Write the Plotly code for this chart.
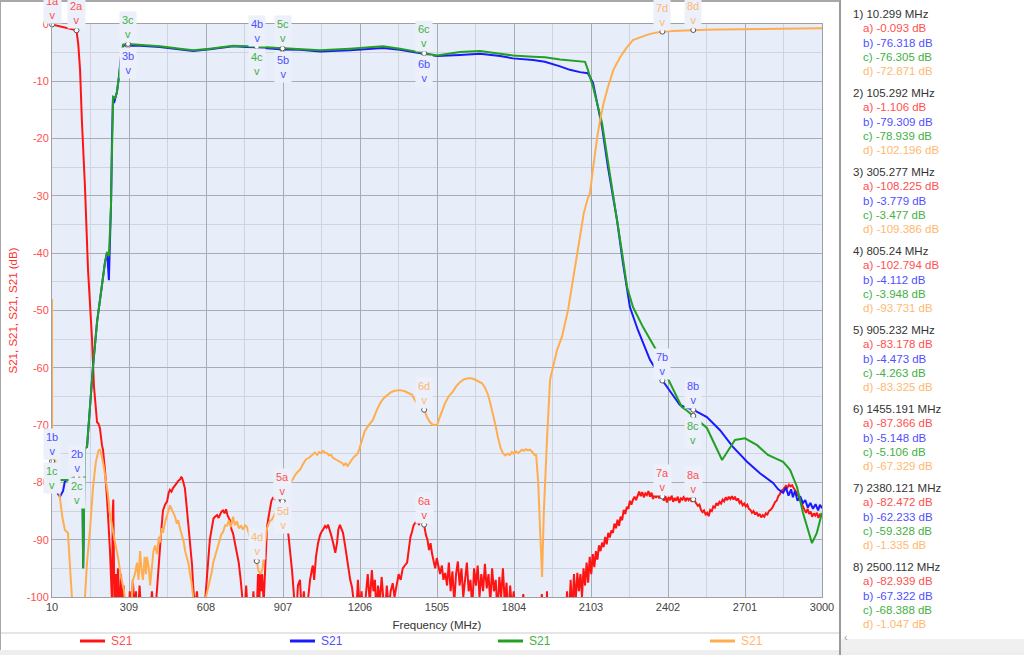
import plotly.graph_objects as go

points_a = [
    (10, -0.09), (30, -0.3), (60, -0.6), (90, -0.9), (105, -1.1), (112, -3.5), (119, -8), (126, -16.8),
    (138, -28.4), (150, -43), (165, -54.6), (173, -63.3), (180, -66.5), (185, -69.5), (190, -69.7),
    (196, -70.5), (204, -73.5), (208, -74.3), (216, -78), (224, -83), (235, -91.8), (243, -101),
    (246, -85), (248, -83), (250, -92), (253, -103), (258, -96), (262, -103), (266, -95), (270, -99),
    (274, -104), (278, -96), (282, -102), (288, -98), (294, -105), (300, -101), (305, -108.2), (312, -99),
    (318, -104), (324, -97), (330, -102), (336, -99), (342, -105), (350, -98), (358, -104), (366, -100),
    (374, -106), (382, -101), (390, -104), (398, -99), (406, -103), (414, -101), (420, -97), (425, -93),
    (429, -91.8), (435, -88), (441, -84.9), (449, -83.9), (457, -83.3), (463, -81.8), (468, -81.3),
    (474, -81.6), (480, -81), (488, -80.4), (495, -80.1), (501, -79.7), (507, -79.5), (512, -79.1),
    (515, -79.2), (519, -79.8), (522, -80.3), (526, -81), (532, -83.8), (538, -86.5), (546, -90),
    (550, -92.5), (554, -94.5), (558, -98), (565, -102), (573, -99), (580, -104), (588, -100), (596, -105),
    (604, -101), (608, -98), (616, -94), (623, -90), (631, -87.5), (637, -86.3), (643, -86), (651, -85.7),
    (657, -86.2), (662, -85.6), (668, -85.1), (674, -84.9), (680, -85.4), (686, -84.7), (692, -85.8),
    (701, -86.6), (707, -88.2), (713, -88.9), (721, -91), (728, -92.5), (735, -94), (742, -96.7),
    (750, -101), (757, -104), (764, -98), (770, -103), (778, -100), (786, -105), (792, -99), (798, -103),
    (805, -102.8), (810, -96), (815, -101), (818, -95.8), (822, -99), (826, -96), (832, -101), (840, -93),
    (845, -87.8), (851, -86), (857, -84.3), (862, -83.2), (868, -82.7), (875, -82.9), (882, -82.6),
    (888, -82.7), (895, -83.1), (905, -83.2), (915, -84.5), (922, -86), (926, -88.3), (934, -91.5),
    (942, -95.3), (950, -100), (958, -104), (965, -98), (973, -97), (980, -103), (988, -99), (996, -104),
    (1004, -100), (1012, -97), (1020, -95), (1023, -94.5), (1028, -97), (1035, -93), (1043, -90.6),
    (1051, -89.2), (1058, -88.5), (1062, -88.3), (1070, -87.6), (1076, -87.9), (1082, -87.4), (1090, -88.5),
    (1096, -89.5), (1104, -91), (1110, -92.3), (1117, -90.5), (1122, -88.2), (1128, -87.4), (1134, -88.1),
    (1140, -88.8), (1148, -91), (1155, -93), (1162, -95.5), (1168, -97), (1175, -98.3), (1182, -101),
    (1190, -104), (1198, -97), (1205, -102), (1212, -99), (1220, -104), (1228, -100), (1236, -96),
    (1244, -101), (1252, -95.3), (1258, -99), (1264, -97), (1270, -103), (1276, -98), (1283, -101),
    (1290, -96.5), (1296, -100), (1302, -104), (1310, -98), (1318, -102), (1325, -99), (1333, -97.6),
    (1340, -100), (1348, -97.6), (1356, -96), (1364, -97), (1372, -95), (1380, -94.5), (1389, -94),
    (1396, -91.5), (1402, -89.5), (1408, -88.6), (1414, -87.5), (1420, -87.1), (1427, -86.9), (1435, -87.3),
    (1442, -86.8), (1448, -87), (1455, -87.4), (1462, -89.2), (1468, -90), (1474, -91.8), (1480, -90.6),
    (1486, -92.5), (1492, -93.5), (1498, -95), (1504, -93.2), (1510, -94.5), (1517, -96), (1524, -94.5),
    (1530, -97), (1537, -95.8), (1544, -98), (1551, -94), (1558, -99), (1565, -95.5), (1572, -101),
    (1579, -96), (1586, -93.8), (1593, -98), (1600, -95), (1607, -100), (1614, -96.5), (1621, -94),
    (1628, -99), (1635, -97), (1642, -102), (1649, -95), (1656, -98), (1663, -94.5), (1670, -100),
    (1677, -96), (1684, -99), (1691, -94.2), (1698, -98.5), (1705, -96), (1712, -101), (1719, -95),
    (1726, -99), (1733, -97), (1740, -103), (1747, -96.5), (1754, -100), (1761, -95), (1768, -101),
    (1775, -97.5), (1782, -104), (1789, -98), (1796, -102), (1803, -99), (1812, -105), (1820, -100),
    (1830, -106), (1840, -99.5), (1850, -104), (1862, -108), (1875, -101), (1888, -107), (1900, -110),
    (1912, -99.5), (1918, -104), (1930, -110), (1932, -99), (1936, -106), (1950, -112), (1970, -109),
    (1990, -112), (2005, -104), (2010, -99), (2016, -105), (2024, -97), (2030, -103), (2037, -96),
    (2043, -101), (2050, -95.8), (2056, -99), (2062, -96), (2068, -100), (2074, -95), (2080, -98),
    (2086, -94), (2092, -97.5), (2098, -93), (2104, -96), (2110, -92.5), (2116, -94.8), (2122, -92),
    (2128, -93.5), (2134, -91), (2140, -92), (2146, -90.5), (2152, -91.3), (2158, -89.5), (2164, -90.8),
    (2170, -88.8), (2176, -89.6), (2182, -88.4), (2188, -88.8), (2194, -87.2), (2200, -88), (2206, -86.5),
    (2212, -87.6), (2218, -86), (2224, -86.6), (2230, -84.8), (2236, -85.5), (2242, -84.3), (2248, -84.6),
    (2254, -83.2), (2260, -83.9), (2266, -83), (2272, -82.5), (2278, -83.1), (2284, -82.2), (2290, -81.6),
    (2296, -82.4), (2302, -81.7), (2308, -82.6), (2314, -81.9), (2320, -82.2), (2326, -81.5), (2332, -82.5),
    (2338, -81.8), (2344, -82.9), (2350, -82.1), (2356, -82.7), (2362, -81.9), (2368, -82.8), (2374, -82.2),
    (2380, -82.5), (2386, -83.2), (2392, -82.4), (2398, -83.5), (2404, -82.6), (2410, -83.1), (2416, -82.3),
    (2422, -83.4), (2428, -82.7), (2434, -83.2), (2440, -82.5), (2446, -83.6), (2452, -82.8), (2458, -83),
    (2464, -82.4), (2470, -83.3), (2476, -82.6), (2482, -83.1), (2488, -82.7), (2494, -83.4), (2500, -82.9),
    (2506, -83.3), (2512, -83.6), (2518, -84.1), (2524, -83.9), (2530, -84.8), (2536, -85.2), (2542, -84.9),
    (2548, -85.6), (2554, -85.3), (2560, -85.9), (2566, -84.8), (2572, -85), (2578, -84.2), (2584, -84.4),
    (2590, -83.6), (2596, -84), (2602, -83.4), (2608, -83.7), (2614, -83), (2620, -83.3), (2626, -82.6),
    (2632, -83.1), (2638, -82.5), (2644, -82.9), (2650, -82.4), (2656, -83), (2662, -82.5), (2668, -83.2),
    (2674, -82.8), (2680, -83.6), (2686, -83.3), (2692, -84), (2698, -83.7), (2704, -84.2), (2710, -83.9),
    (2716, -84.6), (2722, -84.8), (2728, -85.3), (2734, -85), (2740, -85.6), (2746, -85.2), (2752, -85.9),
    (2758, -85.5), (2764, -86.1), (2770, -85.7), (2776, -86), (2782, -85.4), (2788, -85.6), (2794, -85),
    (2800, -84.8), (2806, -84.5), (2812, -84), (2818, -83.4), (2824, -83.2), (2830, -82.4), (2836, -82.1),
    (2842, -81.5), (2848, -81.3), (2854, -81), (2860, -80.6), (2866, -80.9), (2872, -80.4), (2878, -80.7),
    (2884, -80.5), (2890, -81), (2896, -81.4), (2902, -81.9), (2908, -82.2), (2914, -82.8), (2920, -83.6),
    (2926, -84.4), (2932, -84.8), (2938, -85.3), (2944, -84.6), (2950, -85.5), (2956, -85.1), (2962, -86),
    (2968, -85.4), (2974, -85.8), (2980, -85.3), (2986, -86.2), (2992, -85.6), (3000, -85.7),
]

points_b = [
    (10, -76.3), (22, -80), (33, -82), (41, -82.5), (53, -81.5), (60, -79.8), (72, -79.6), (90, -79.5),
    (105, -79.3), (120, -79.5), (128, -79.8), (131, -95), (134, -86), (138, -74), (146, -73.8), (158, -66),
    (169, -59.9), (185, -52), (204, -45.2), (216, -41.5), (224, -39.8), (228, -42), (231, -44.7), (235, -38),
    (239, -31.9), (243, -20), (247, -12.7), (251, -13.8), (255, -13), (262, -11.9), (270, -9.2), (278, -5.5),
    (286, -3.8), (295, -3.7), (305, -3.78), (352, -3.8), (429, -4.0), (507, -4.4), (558, -4.7), (623, -4.4),
    (713, -3.9), (806, -4.11), (907, -4.47), (973, -4.5), (1051, -4.8), (1167, -4.6), (1256, -4.3),
    (1295, -4.2), (1361, -4.5), (1455, -5.15), (1505, -5.6), (1594, -5.4), (1672, -5.2), (1750, -5.6),
    (1800, -6.0), (1878, -6.3), (1924, -6.6), (1983, -7.4), (2021, -8.0), (2060, -8.4), (2091, -8.6),
    (2111, -10.3), (2146, -18), (2169, -25), (2204, -34.2), (2227, -41.7), (2254, -49.4), (2285, -53.4),
    (2332, -58.6), (2382, -62.3), (2448, -66.5), (2476, -67), (2499, -67.3), (2553, -68.6), (2604, -70.9),
    (2654, -73.8), (2709, -76.4), (2759, -78.4), (2810, -80.1), (2830, -81.2), (2849, -81.8), (2860, -80.9),
    (2870, -82.3), (2880, -81.2), (2887, -82.6), (2895, -81.5), (2905, -83.2), (2915, -82.4), (2926, -83.6),
    (2935, -83.1), (2945, -84.4), (2955, -83.6), (2965, -84.6), (2975, -83.8), (2985, -84.9), (2992, -83.9),
    (3000, -84.5),
]

points_c = [
    (10, -76.3), (22, -79.8), (41, -79.6), (72, -79.6), (105, -78.9), (120, -79.3), (128, -79.6), (131, -95),
    (134, -86), (138, -74), (146, -73.8), (158, -66), (169, -59.9), (185, -52), (204, -45.2), (216, -41.5),
    (224, -39.8), (231, -40.5), (239, -31.9), (247, -12.7), (255, -12.9), (262, -11.9), (270, -9.2),
    (286, -3.6), (305, -3.48), (352, -3.6), (429, -3.9), (507, -4.3), (558, -4.6), (623, -4.3), (713, -3.8),
    (806, -3.95), (907, -4.26), (973, -4.4), (1051, -4.6), (1167, -4.3), (1256, -4.0), (1295, -3.9),
    (1361, -4.3), (1455, -5.1), (1505, -5.5), (1594, -4.9), (1672, -4.7), (1750, -5.2), (1800, -5.5),
    (1878, -5.7), (1924, -5.8), (1983, -6.2), (2021, -6.4), (2060, -6.6), (2080, -6.6), (2091, -8.0),
    (2111, -11), (2146, -17.3), (2169, -24.3), (2196, -31.9), (2224, -40), (2243, -45.9), (2266, -49.4),
    (2305, -52.9), (2351, -56.5), (2382, -59.3), (2401, -61.8), (2455, -66.8), (2476, -67.5), (2499, -68.4),
    (2553, -70.5), (2612, -76.1), (2662, -72.6), (2701, -72.3), (2748, -73.5), (2790, -75.2), (2849, -76.4),
    (2876, -77.8), (2903, -80.8), (2926, -85.3), (2961, -90.6), (2980, -88.8), (3000, -85.3),
]

points_d = [
    (10, -48), (10.3, -72.9), (22, -76), (33, -80), (41, -82), (50, -86), (60, -88.3), (72, -88.8), (80, -94.8),
    (88, -100.5), (105, -102.2), (130, -104), (138, -100), (146, -94), (158, -88), (169, -81), (180, -76.5),
    (190, -74.5), (196, -74.2), (204, -75.5), (212, -77.5), (220, -80), (227, -82), (235, -85.5), (247, -88.8),
    (255, -90.5), (266, -93), (278, -96.5), (290, -99), (298, -103), (305, -109.4), (318, -102), (325, -97),
    (332, -96), (340, -94), (346, -97), (352, -92), (358, -95.5), (363, -97), (370, -93), (375, -96),
    (379, -93), (386, -95), (391, -98), (398, -94), (404, -92), (410, -91), (418, -92.5), (425, -89.5),
    (429, -90.5), (436, -88), (441, -88.8), (449, -87), (457, -85.5), (463, -84.8), (468, -84), (474, -84.6),
    (480, -85.5), (488, -86), (495, -87.2), (500, -86.6), (507, -88), (515, -89.3), (522, -90.5), (527, -92),
    (534, -93), (540, -94.2), (546, -96), (552, -97.5), (558, -100), (570, -103), (585, -103), (597, -101),
    (608, -100), (616, -98.5), (623, -97), (631, -95.5), (636, -94), (643, -93), (651, -91.5), (657, -90.8),
    (662, -90), (668, -89), (674, -88.7), (682, -87.5), (690, -87.5), (697, -86.6), (705, -87.8), (713, -86),
    (720, -87.5), (728, -86.8), (736, -88), (744, -87.6), (752, -88.2), (760, -87.5), (767, -87.8),
    (775, -89), (785, -91), (795, -93.5), (805, -93.7), (812, -95.5), (820, -96), (828, -95), (836, -91),
    (845, -88), (855, -86.8), (864, -86.5), (875, -85.5), (890, -84.5), (905, -83.3), (920, -81.5),
    (935, -80), (945, -79.5), (954, -78.7), (965, -78.1), (973, -77.8), (985, -76.8), (996, -76),
    (1008, -75.7), (1016, -75.4), (1023, -75.2), (1031, -74.8), (1040, -75.2), (1047, -74.7), (1055, -74.9),
    (1062, -74.5), (1070, -74.8), (1078, -74.9), (1086, -75.3), (1094, -75.2), (1101, -75.7), (1109, -75.9),
    (1117, -76.1), (1124, -76.4), (1128, -76.4), (1136, -76.6), (1143, -77), (1150, -76.7), (1158, -77.1),
    (1167, -76.6), (1175, -76), (1183, -75.5), (1190, -75.3), (1198, -74.9), (1210, -73.2), (1225, -71),
    (1240, -70), (1256, -69.1), (1270, -67.5), (1284, -66.2), (1298, -65.3), (1311, -64.8), (1325, -64.3),
    (1340, -64), (1361, -63.9), (1380, -64.1), (1395, -64.5), (1408, -64.7), (1420, -65.7), (1431, -66.5),
    (1443, -66.9), (1455, -67.3), (1466, -68.6), (1478, -69.5), (1490, -70), (1505, -70), (1515, -68.7),
    (1525, -67.5), (1536, -66.2), (1550, -65), (1567, -64.1), (1580, -63.2), (1594, -62.5), (1610, -62),
    (1633, -61.8), (1650, -62), (1668, -62.4), (1680, -62.7), (1692, -63.5), (1703, -64.7), (1712, -66.2),
    (1722, -67.9), (1732, -70), (1742, -72.2), (1752, -74), (1761, -74.9), (1770, -75.3), (1779, -75),
    (1788, -75.2), (1796, -74.7), (1803, -75), (1812, -74.6), (1820, -74.9), (1827, -74.6), (1835, -74.3),
    (1843, -74.5), (1850, -74.2), (1858, -74.4), (1866, -74.3), (1875, -74.7), (1884, -75.2), (1890, -75.2),
    (1898, -80), (1905, -88), (1913, -96.5), (1920, -85), (1927, -76), (1932, -72.6), (1944, -62.1),
    (1955, -59.9), (1971, -56.9), (1990, -54.6), (2002, -52.2), (2014, -49.9), (2028, -46), (2041, -42.4),
    (2050, -39.5), (2060, -36.5), (2075, -33), (2090, -30.5), (2099, -29.5), (2110, -25.5), (2118, -22.5),
    (2128, -19.5), (2138, -16.8), (2152, -13.8), (2169, -11), (2190, -8), (2216, -5.8), (2240, -4.2),
    (2266, -2.8), (2292, -2.3), (2320, -1.9), (2350, -1.55), (2380, -1.34), (2420, -1.22), (2460, -1.12),
    (2500, -1.05), (2550, -1.0), (2604, -0.96), (2700, -0.9), (2800, -0.85), (2900, -0.8), (3000, -0.75),
]

# marker readout (right panel)
marker_freq = [10.299, 105.292, 305.277, 805.24, 905.232, 1455.191, 2380.121, 2500.112]
marker_a = [-0.093, -1.106, -108.225, -102.794, -83.178, -87.366, -82.472, -82.939]
marker_b = [-76.318, -79.309, -3.779, -4.112, -4.473, -5.148, -62.233, -67.322]
marker_c = [-76.305, -78.939, -3.477, -3.948, -4.263, -5.106, -59.328, -68.388]
marker_d = [-72.871, -102.196, -109.386, -93.731, -83.325, -67.329, -1.335, -1.047]

# which marker labels are drawn, and on which side of the point
labels_a = {1: 'up', 2: 'up', 5: 'up', 6: 'up', 7: 'up', 8: 'up'}
labels_b = {1: 'up', 2: 'up', 3: 'down', 4: 'up', 5: 'down', 6: 'down', 7: 'up', 8: 'up'}
labels_c = {1: 'down', 2: 'down', 3: 'up', 4: 'down', 5: 'up', 6: 'up', 8: 'down'}
labels_d = {4: 'up', 5: 'down', 6: 'up', 7: 'up', 8: 'up'}

x_ticks = [10, 309, 608, 907, 1206, 1505, 1804, 2103, 2402, 2701, 3000]
y_ticks = list(range(-100, 1, 10))

line_colors = {'a': '#ff1414', 'b': '#1a1aff', 'c': '#22a022', 'd': '#ffad4f'}
text_colors = {'a': '#ff5050', 'b': '#5050ff', 'c': '#44b044', 'd': '#ffb870'}
font = 'Liberation Sans, Arial, sans-serif'
plot_bg = '#e8eef9'
label_bg = '#ebf0fa'

# window pixels -> paper coords (plot area is x 52..822, y 24..597)
def px(x):
    return (x - 52) / 770

def py(y):
    return (597 - y) / 573

fig = go.Figure()

traces = [('a', points_a, marker_a, labels_a), ('b', points_b, marker_b, labels_b),
          ('c', points_c, marker_c, labels_c), ('d', points_d, marker_d, labels_d)]

for key, pts, _, _ in traces:
    fig.add_trace(go.Scatter(
        x=[p[0] for p in pts], y=[p[1] for p in pts], mode='lines', name='S21',
        line=dict(color=line_colors[key], width=2), showlegend=False, hoverinfo='skip',
    ))

annotations = []
mx, my = [], []
for key, pts, mvals, labels in traces:
    for idx, side in labels.items():
        f = marker_freq[idx - 1]
        v = mvals[idx - 1]
        mx.append(f)
        my.append(v)
        up = side == 'up'
        annotations.append(dict(
            x=f, y=v, xref='x', yref='y', text=f'{idx}{key}<br>v', showarrow=False,
            font=dict(size=11, color=text_colors[key], family=font), bgcolor=label_bg,
            borderpad=2, yanchor='bottom' if up else 'top', yshift=1 if up else -1,
        ))

fig.add_trace(go.Scatter(
    x=mx, y=my, mode='markers', showlegend=False, hoverinfo='skip', cliponaxis=False,
    marker=dict(symbol='circle', size=5, color='white', line=dict(color='#555555', width=1)),
))

# right hand marker readout
for i, f in enumerate(marker_freq):
    y0 = 14 + i * 79
    annotations.append(dict(
        x=px(851), y=py(y0), xref='paper', yref='paper', xanchor='left', yanchor='middle',
        text=f'{i + 1}) {f} MHz', showarrow=False, font=dict(size=11.5, color='#333333', family=font),
    ))
    for j, (key, vals) in enumerate([('a', marker_a), ('b', marker_b), ('c', marker_c), ('d', marker_d)]):
        annotations.append(dict(
            x=px(861), y=py(y0 + 14.3 * (j + 1)), xref='paper', yref='paper', xanchor='left',
            yanchor='middle', text=f'{key}) {vals[i]:.3f} dB', showarrow=False,
            font=dict(size=11.5, color=text_colors[key], family=font),
        ))

# hand drawn legend under the x axis
shapes = []
for key, x0 in zip(['a', 'b', 'c', 'd'], [80, 290, 498, 710]):
    shapes.append(dict(type='line', xref='paper', yref='paper', x0=px(x0), x1=px(x0 + 25),
                       y0=py(641), y1=py(641), line=dict(color=line_colors[key], width=3)))
    annotations.append(dict(x=px(x0 + 29), y=py(641), xref='paper', yref='paper', xanchor='left',
                            yanchor='middle', text='S21', showarrow=False,
                            font=dict(size=12, color=text_colors[key], family=font)))

# frame pieces
shapes += [
    dict(type='line', xref='paper', yref='paper', x0=px(0), x1=px(840), y0=py(633), y1=py(633),
         line=dict(color='#cccccc', width=1)),
    dict(type='rect', xref='paper', yref='paper', x0=px(0), x1=px(1024), y0=py(650), y1=py(655),
         fillcolor='#eeeeee', line=dict(width=0), layer='below'),
    dict(type='rect', xref='paper', yref='paper', x0=px(841), x1=px(1024), y0=py(639), y1=py(651),
         fillcolor='#f0f0f0', line=dict(width=0)),
    dict(type='line', xref='paper', yref='paper', x0=px(840), x1=px(840), y0=py(0), y1=py(655),
         line=dict(color='#9a9a9a', width=2)),
    dict(type='line', xref='paper', yref='paper', x0=px(0), x1=px(840), y0=py(1), y1=py(1),
         line=dict(color='#a8a8a8', width=2)),
    dict(type='line', xref='paper', yref='paper', x0=px(0.5), x1=px(0.5), y0=py(0), y1=py(650),
         line=dict(color='#a8a8a8', width=1)),
]
annotations.append(dict(x=px(850), y=py(645), xref='paper', yref='paper', text='‹', showarrow=False,
                        font=dict(size=11, color='#999999', family=font)))

fig.update_layout(
    width=1024, height=655,
    margin=dict(l=52, r=202, t=24, b=58),
    paper_bgcolor='white', plot_bgcolor=plot_bg,
    font=dict(family=font, size=11, color='#444444'),
    showlegend=False,
    annotations=annotations, shapes=shapes,
    xaxis=dict(
        range=[10, 3000], tickvals=x_ticks, ticktext=[str(t) for t in x_ticks],
        showgrid=True, gridcolor='#a9acb2', gridwidth=1, zeroline=False,
        showline=True, linecolor='#a0a0a0', mirror=True, ticks='', automargin=False,
        tickfont=dict(size=11, color='#444444'),
        title=dict(text='Frequency (MHz)', font=dict(size=11.5, color='#333333'), standoff=8),
        minor=dict(tick0=10, dtick=149.5, showgrid=True, gridcolor='#cfd4dd', gridwidth=1),
    ),
    yaxis=dict(
        range=[-100, 0], tickvals=y_ticks, ticktext=[str(t) for t in y_ticks],
        showgrid=True, gridcolor='#a9acb2', gridwidth=1, zeroline=False,
        showline=True, linecolor='#a0a0a0', mirror=True, ticks='', automargin=False,
        tickfont=dict(size=11, color='#ff5050'),
        title=dict(text='S21, S21, S21, S21 (dB)', font=dict(size=11.5, color='#ff3030'), standoff=6),
        minor=dict(tick0=0, dtick=5, showgrid=True, gridcolor='#cfd4dd', gridwidth=1),
    ),
)

# the page's default 8px body margin would push the 1024x655 figure off the window
fig.write_html("out.html", config={'displayModeBar': False},
               post_script="document.body.style.margin = '0';")
